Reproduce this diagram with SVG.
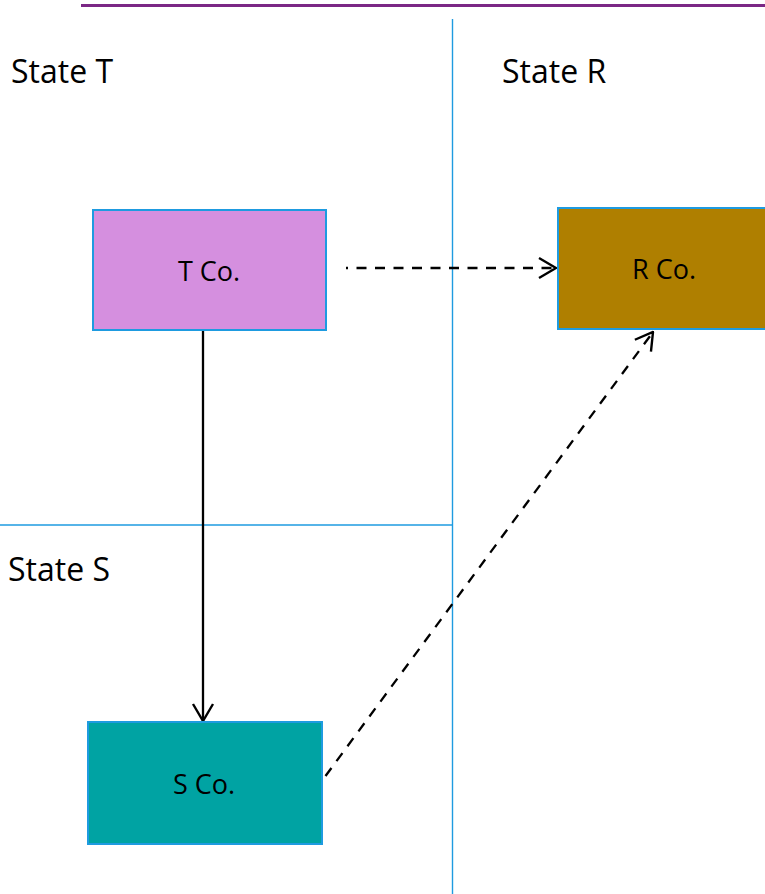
<svg xmlns="http://www.w3.org/2000/svg" width="765" height="894" viewBox="0 0 765 894">
<defs>
<style>
.lbl{font-family:"Open Sans","Liberation Sans",sans-serif;fill:#000}
.state{font-size:32px}
.box{stroke:#1E9BE0;stroke-width:2}
.name{font-size:27px;text-anchor:middle}
.div{stroke:#1E9BE0;stroke-width:1.4;fill:none}
.conn{stroke:#000;stroke-width:2.3;fill:none}
.dash{stroke-dasharray:10 8.5}
</style>
<marker id="arr" viewBox="0 0 20 24" refX="19" refY="12" markerWidth="20" markerHeight="24" markerUnits="userSpaceOnUse" orient="auto">
<path d="M2,2 L19,12 L2,22" fill="none" stroke="#000" stroke-width="2.4"/>
</marker>
</defs>
<rect width="765" height="894" fill="#fff"/>
<g id="frame">
<line x1="81" y1="5.5" x2="765" y2="5.5" stroke="#7B2785" stroke-width="3"/>
<line class="div" x1="452.5" y1="19" x2="452.5" y2="894"/>
<line class="div" x1="0" y1="525" x2="452.5" y2="525"/>
</g>
<g id="labels">
<text class="lbl state" x="11" y="83">State T</text>
<text class="lbl state" x="502" y="83">State R</text>
<text class="lbl state" x="8" y="581">State S</text>
</g>
<g id="connectors">
<line class="conn" x1="203" y1="331" x2="203" y2="721" marker-end="url(#arr)"/>
<line class="conn dash" x1="346" y1="268" x2="556" y2="268" marker-end="url(#arr)" stroke-dashoffset="8"/>
<line class="conn dash" x1="325.5" y1="776" x2="653" y2="332" marker-end="url(#arr)"/>
</g>
<g id="tco">
<rect class="box" x="93" y="210" width="233" height="120" fill="#D58FDF"/>
<text class="lbl name" x="209" y="281">T Co.</text>
</g>
<g id="rco">
<rect class="box" x="558" y="208" width="220" height="121" fill="#AF7F00"/>
<text class="lbl name" x="664" y="279">R Co.</text>
</g>
<g id="sco">
<rect class="box" x="88" y="722" width="234" height="122" fill="#00A3A3"/>
<text class="lbl name" x="204" y="794">S Co.</text>
</g>
</svg>
